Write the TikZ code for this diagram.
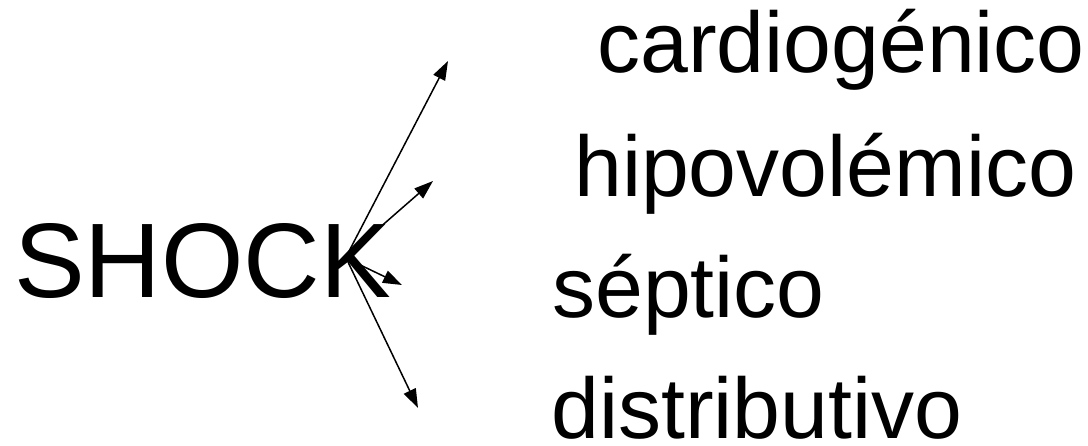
\documentclass[tikz,border=0pt]{standalone}
\usepackage{fontspec}
\setmainfont{Liberation Sans}
\usetikzlibrary{arrows.meta}
\tikzset{
  tipo/.style={anchor=base west, inner sep=0pt, font=\fontsize{86}{90}\selectfont},
  flecha/.style={line width=1.5pt, -{Triangle[length=19pt,width=13pt]}}
}
\begin{document}
\begin{tikzpicture}[x=1pt,y=-1pt]
\useasboundingbox (0,0) rectangle (1088,445);
\node[anchor=base west, inner sep=0pt, font=\fontsize{106}{110}\selectfont] (shock) at (14,297) {SHOCK};
\node[tipo] (card) at (597,72) {cardiogénico};
\node[tipo] (hipo) at (574,196) {hipovolémico};
\node[tipo] (sept) at (552,317) {séptico};
\node[tipo] (dist) at (551,438) {distributivo};
% origen y puntas
\coordinate (o) at (346,257);
\coordinate (o2) at (352,261);
\coordinate (o3) at (348,262);
\coordinate (pc) at (448,61);
\coordinate (ph) at (433,181);
\coordinate (ps) at (402,285);
\coordinate (pd) at (418,408);
\draw[flecha] (o)--(pc);
\draw[flecha] (o)--(ph);
\draw[flecha] (o2)--(ps);
\draw[flecha] (o3)--(pd);
\end{tikzpicture}
\end{document}
